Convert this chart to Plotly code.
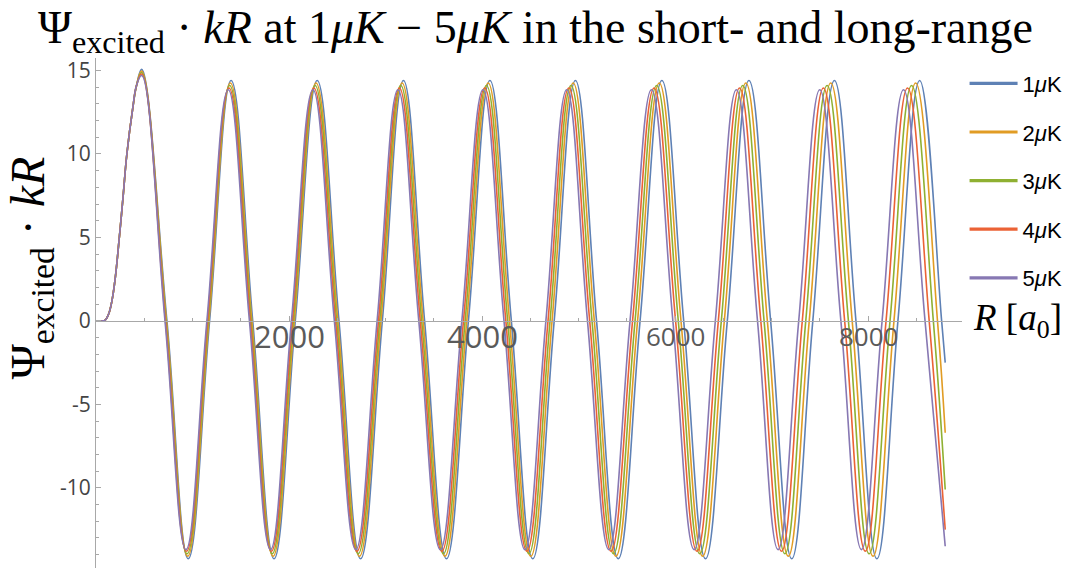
import plotly.graph_objects as go

# Common onset of all five wavefunctions (they coincide before the first maximum)
r_rise = [0, 60, 95, 130, 165, 200, 240, 280, 320, 380, 420]
psi_rise = [0, 0, 0.05, 0.4, 1.2, 2.6, 4.9, 7.4, 10.0, 12.7, 14.1]

r_end = 8800

# 1 μK
nodes_1uK = [735, 1177, 1624, 2065, 2518, 2967, 3405, 3859, 4304, 4748, 5187, 5638, 6090, 6542, 6991, 7428, 7875, 8310, 8763]
extrema_r_1uK = [473, 956, 1400, 1845, 2292, 2742, 3186, 3632, 4082, 4526, 4968, 5412, 5864, 6316, 6766, 7210, 7652, 8092, 8536]
extrema_psi_1uK = [15.07, -14.25, 14.4, -14.25, 14.4, -14.25, 14.4, -14.25, 14.4, -14.25, 14.4, -14.25, 14.4, -14.25, 14.4, -14.25, 14.4, -14.25, 14.4]
end_psi_1uK = -2.5

# 2 μK
nodes_2uK = [730, 1170, 1615, 2055, 2506, 2953, 3390, 3842, 4285, 4726, 5164, 5612, 6062, 6511, 6957, 7391, 7836, 8269, 8720]
extrema_r_2uK = [473, 950, 1392, 1835, 2280, 2730, 3172, 3616, 4064, 4506, 4945, 5388, 5837, 6286, 6734, 7174, 7614, 8052, 8494]
extrema_psi_2uK = [14.97, -14.1, 14.25, -14.1, 14.25, -14.1, 14.25, -14.1, 14.25, -14.1, 14.25, -14.1, 14.25, -14.1, 14.25, -14.1, 14.25, -14.1, 14.25]
end_psi_2uK = -6.7

# 3 μK
nodes_3uK = [725, 1163, 1607, 2045, 2494, 2940, 3375, 3825, 4266, 4705, 5140, 5586, 6034, 6480, 6923, 7355, 7797, 8228, 8677]
extrema_r_3uK = [473, 944, 1385, 1826, 2270, 2717, 3158, 3600, 4046, 4486, 4922, 5363, 5810, 6257, 6702, 7139, 7576, 8012, 8452]
extrema_psi_3uK = [14.88, -13.95, 14.1, -13.95, 14.1, -13.95, 14.1, -13.95, 14.1, -13.95, 14.1, -13.95, 14.1, -13.95, 14.1, -13.95, 14.1, -13.95, 14.1]
end_psi_3uK = -10.1

# 4 μK
nodes_4uK = [720, 1156, 1599, 2035, 2482, 2927, 3360, 3808, 4247, 4684, 5116, 5560, 6006, 6449, 6889, 7319, 7758, 8187, 8634]
extrema_r_4uK = [473, 938, 1378, 1817, 2258, 2704, 3144, 3584, 4028, 4466, 4900, 5338, 5783, 6228, 6669, 7104, 7538, 7972, 8410]
extrema_psi_4uK = [14.79, -13.8, 13.95, -13.8, 13.95, -13.8, 13.95, -13.8, 13.95, -13.8, 13.95, -13.8, 13.95, -13.8, 13.95, -13.8, 13.95, -13.8, 13.95]
end_psi_4uK = -12.5

# 5 μK
nodes_5uK = [715, 1149, 1590, 2025, 2470, 2913, 3345, 3791, 4228, 4662, 5093, 5534, 5978, 6418, 6855, 7282, 7719, 8146, 8591]
extrema_r_5uK = [473, 932, 1370, 1808, 2248, 2692, 3129, 3568, 4010, 4445, 4878, 5314, 5756, 6198, 6636, 7068, 7500, 7932, 8368]
extrema_psi_5uK = [14.7, -13.7, 13.85, -13.7, 13.85, -13.7, 13.85, -13.7, 13.85, -13.7, 13.85, -13.7, 13.85, -13.7, 13.85, -13.7, 13.85, -13.7, 13.85]
end_psi_5uK = -13.5

labels = ["1<i>μ</i>K", "2<i>μ</i>K", "3<i>μ</i>K", "4<i>μ</i>K", "5<i>μ</i>K"]
colors = ["#5E81B5", "#E19C24", "#8FB032", "#EB6235", "#8778B3"]

series = [
    (nodes_1uK, extrema_r_1uK, extrema_psi_1uK, end_psi_1uK),
    (nodes_2uK, extrema_r_2uK, extrema_psi_2uK, end_psi_2uK),
    (nodes_3uK, extrema_r_3uK, extrema_psi_3uK, end_psi_3uK),
    (nodes_4uK, extrema_r_4uK, extrema_psi_4uK, end_psi_4uK),
    (nodes_5uK, extrema_r_5uK, extrema_psi_5uK, end_psi_5uK),
]

x_ticks = [2000, 4000, 6000, 8000]
x_tick_labels = ["2000", "4000", "6000", "8000"]
x_tick_sizes = [31, 31, 26, 26]
y_ticks = [-10, -5, 0, 5, 10, 15]
y_tick_labels = ["-10", "-5", "0", "5", "10", "15"]

x_range = [0, 8974]
y_range = [-14.8, 15.75]

fig = go.Figure()

for (nodes, er, ep, end_psi), color in zip(series, colors):
    pts = list(zip(r_rise, psi_rise))
    pts += [(r, 0.0) for r in nodes]
    pts += list(zip(er, ep))
    pts.append((r_end, end_psi))
    pts.sort(key=lambda p: p[0])
    fig.add_trace(go.Scatter(
        x=[p[0] for p in pts], y=[p[1] for p in pts],
        mode="lines", line=dict(color=color, width=1.6, shape="spline", smoothing=1.2),
        showlegend=False, hoverinfo="skip",
    ))

# legend entries with heavier swatches
for i, (label, color) in enumerate(zip(labels, colors)):
    fig.add_trace(go.Scatter(
        x=[None], y=[None], mode="lines", name=label,
        line=dict(color=color, width=3.2), legendgroup=f"g{i}",
    ))

axis_grey = "#a8a8a8"
zero_frac = (0 - y_range[0]) / (y_range[1] - y_range[0])

fig.update_layout(
    width=1085, height=569,
    margin=dict(l=96, r=123, t=58, b=1),
    paper_bgcolor="white", plot_bgcolor="white",
    showlegend=True,
    legend=dict(
        xref="container", yref="container", x=0.889, y=0.89,
        xanchor="left", yanchor="top",
        font=dict(family="Liberation Sans", size=22, color="black"),
        tracegroupgap=17, itemwidth=48, bgcolor="rgba(0,0,0,0)",
    ),
    xaxis=dict(
        range=x_range, anchor="free", position=zero_frac,
        showline=True, linecolor=axis_grey, linewidth=1,
        tickmode="array", tickvals=x_ticks, showticklabels=False,
        ticks="inside", ticklen=5, tickcolor=axis_grey,
        minor=dict(tickmode="linear", tick0=0, dtick=500, ticks="inside", ticklen=3, tickcolor=axis_grey),
        showgrid=False, zeroline=False,
    ),
    yaxis=dict(
        range=y_range, showline=True, linecolor=axis_grey, linewidth=1,
        tickmode="array", tickvals=y_ticks, ticktext=y_tick_labels,
        ticks="inside", ticklen=5, tickcolor=axis_grey,
        minor=dict(tickmode="linear", tick0=0, dtick=1, ticks="inside", ticklen=3, tickcolor=axis_grey),
        tickfont=dict(family="Open Sans", size=21, color="#444444"),
        showgrid=False, zeroline=False,
    ),
)

# x tick labels below the axis line
for v, t, s in zip(x_ticks, x_tick_labels, x_tick_sizes):
    fig.add_annotation(
        x=v, y=0, xref="x", yref="y", text=t, showarrow=False,
        xanchor="center", yanchor="middle", yshift=-15,
        font=dict(family="Open Sans", size=s, color="#5a5a5a"),
    )

# axis label for R
fig.add_annotation(
    xref="paper", yref="y", x=1.01, y=0, xanchor="left", yanchor="middle",
    text="<i>R</i> [<i>a</i><sub>0</sub>]", showarrow=False,
    font=dict(family="Liberation Serif", size=37, color="black"),
)

# vertical axis label
fig.add_annotation(
    xref="paper", yref="paper", x=-0.0745, y=0.588, xanchor="center", yanchor="middle",
    text="Ψ<sub>excited</sub> · <i>kR</i>", textangle=-90, showarrow=False,
    font=dict(family="Liberation Serif", size=48, color="black"),
)

# title
fig.add_annotation(
    xref="paper", yref="paper", x=0.507, y=1.1125, xanchor="center", yanchor="top",
    text="Ψ<sub>excited</sub> · <i>kR</i> at 1<i>μK</i> − 5<i>μK</i> in the short- and long-range",
    showarrow=False, borderpad=0,
    font=dict(family="Liberation Serif", size=46, color="black"),
)

fig.write_html("out.html")
